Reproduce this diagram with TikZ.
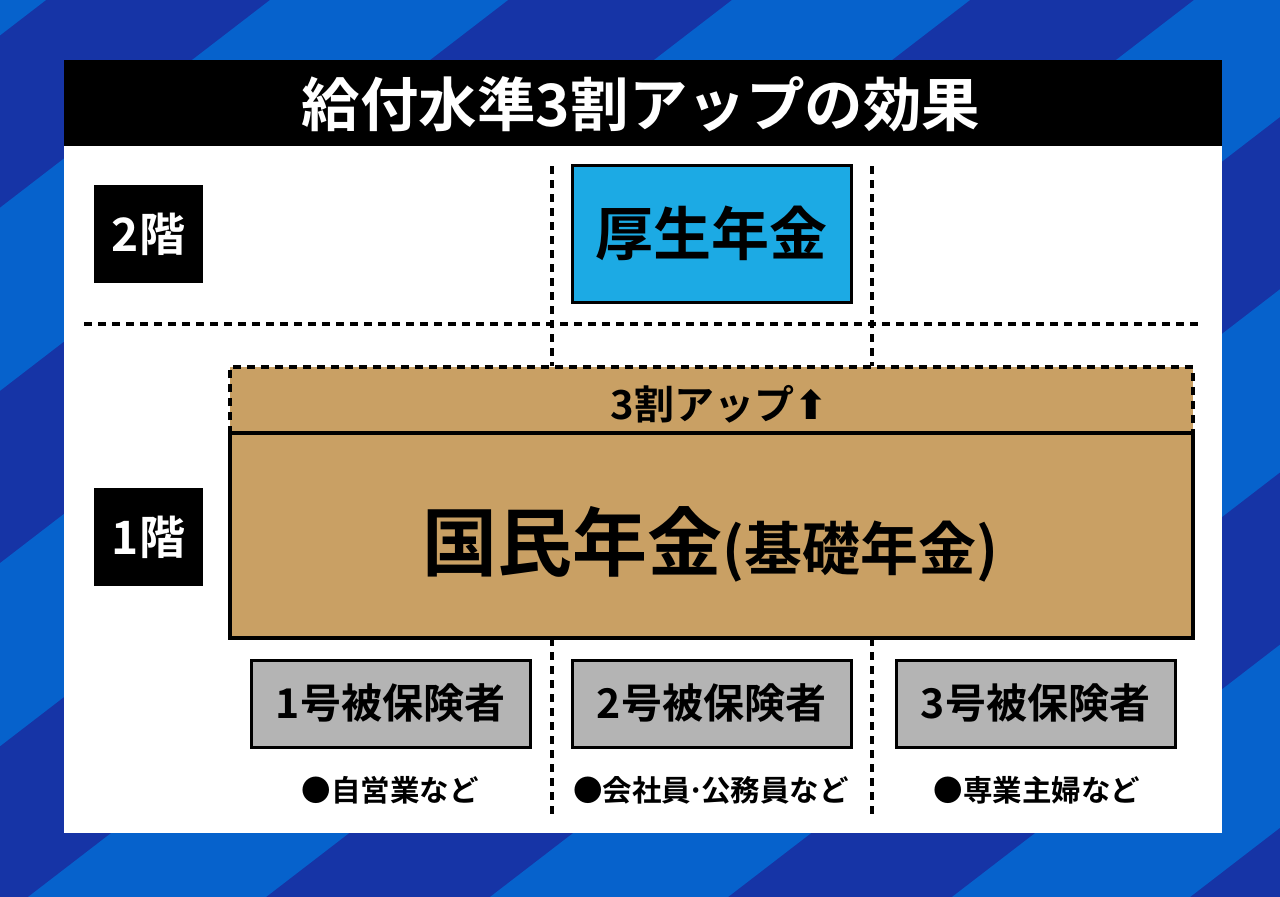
\documentclass[tikz,border=0pt]{standalone}
\usepackage{fontspec}
\setmainfont{Noto Sans CJK JP}[BoldFont={Noto Sans CJK JP Bold}]
\newfontfamily\symfont{DejaVu Sans}[BoldFont={DejaVu Sans Bold}]
\definecolor{bgdark}{RGB}{22,52,166}
\definecolor{bglight}{RGB}{6,98,204}
\definecolor{tanfill}{RGB}{201,160,100}
\definecolor{koseifill}{RGB}{28,170,228}
\definecolor{grayfill}{RGB}{180,180,180}
\begin{document}
\begin{tikzpicture}[x=1pt,y=-1pt,
  box/.style={inner sep=0pt, outer sep=0pt},
  floorbox/.style={box, fill=black, text=white, minimum width=109pt, minimum height=98pt,
    font=\bfseries\fontsize{46}{46}\selectfont},
  kbox/.style={box, fill=koseifill, draw=black, line width=3pt, minimum width=279pt, minimum height=137pt,
    font=\bfseries\fontsize{58}{58}\selectfont},
  gbox/.style={box, fill=grayfill, draw=black, line width=3pt, minimum width=279pt, minimum height=87pt,
    font=\bfseries\fontsize{41}{41}\selectfont},
  caption/.style={box, font=\bfseries\fontsize{29.5}{29.5}\selectfont},
  dotline/.style={line width=3.5pt, dash pattern=on 8pt off 6pt},
]
\useasboundingbox (0,0) rectangle (1280,897);
% background stripes
\begin{scope}
  \clip (0,0) rectangle (1280,897);
  \fill[bgdark] (0,0) rectangle (1280,897);
  \foreach \k in {-1,...,4}
    \fill[bglight] ({270+462*\k},0) -- ({508+462*\k},0) -- ({508+462*\k-1166},897) -- ({270+462*\k-1166},897) -- cycle;
\end{scope}
% panel and title bar
\node[box, fill=white, anchor=north west, minimum width=1158pt, minimum height=773pt] (panel) at (64,60) {};
\node[box, fill=black, anchor=north west, minimum width=1158pt, minimum height=86pt] (titlebar) at (64,60) {};
\node[box, text=white, font=\bfseries\fontsize{58.5}{58.5}\selectfont] (title) at (641,104) {給付水準3割アップの効果};
% floor labels
\node[floorbox] (f2) at (148.5,234) {2階};
\node[floorbox] (f1) at (148.5,537) {1階};
% separators
\coordinate (hl) at (84,324);
\coordinate (hr) at (1200,324);
\coordinate (v1t) at (552,166);
\coordinate (v1m) at (552,366);
\coordinate (v2t) at (872,166);
\coordinate (v2m) at (872,366);
\coordinate (v1b) at (552,815);
\coordinate (v2b) at (872,815);
\draw[dotline] (hl) -- (hr);
\draw[dotline] (v1t) -- (v1m);
\draw[dotline] (v2t) -- (v2m);
% kosei nenkin
\node[kbox] (kosei) at (711.5,233.5) {厚生年金};
% 3 wari up area
\node[box, fill=tanfill, anchor=north west, minimum width=963pt, minimum height=67pt] (up) at (230,367) {};
\draw[dotline] (up.south west) -- (up.north west) -- (up.north east) -- (up.south east);
\node[box, font=\bfseries\fontsize{40}{40}\selectfont] (uptext) at (719,404) {3割アップ{\symfont\bfseries ⬆}};
% kokumin nenkin
\node[box, fill=tanfill, draw=black, line width=4pt, anchor=north west, minimum width=963pt, minimum height=205pt] (kokumin) at (230,433) {};
\node[box, font=\bfseries] (kokutext) at (710,544) {{\fontsize{75}{75}\selectfont 国民年金}{\fontsize{58}{58}\selectfont (基礎年金)}};
% lower separators
\draw[dotline] (kokumin.south -| v1b) -- (v1b);
\draw[dotline] (kokumin.south -| v2b) -- (v2b);
% insured groups
\node[gbox] (g1) at (390.5,703.5) {1号被保険者};
\node[gbox] (g2) at (711.5,703.5) {2号被保険者};
\node[gbox] (g3) at (1035.5,703.5) {3号被保険者};
\node[caption] (c1) at (390,790) {●自営業など};
\node[caption] (c2) at (711,790) {●会社員\kern-0.12em·\kern-0.12em 公務員など};
\node[caption] (c3) at (1037,790) {●専業主婦など};
\end{tikzpicture}
\end{document}
